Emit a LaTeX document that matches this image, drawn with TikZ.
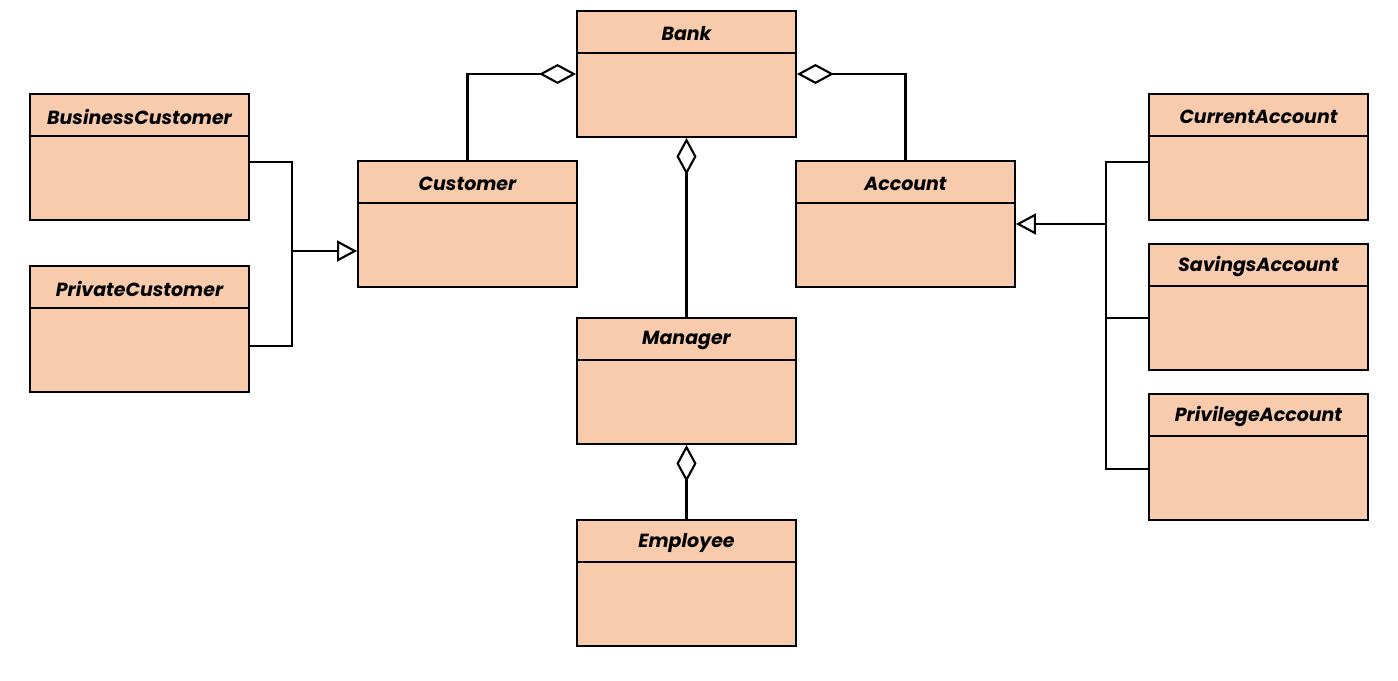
\documentclass[tikz,border=0pt]{standalone}
\usepackage{fontspec}
\setmainfont{Poppins}
\usepackage{tikz}
\usetikzlibrary{arrows.meta}

\definecolor{classfill}{RGB}{247,203,172}

\newcommand{\umlclass}[3]{%
  \node[cls] (#1) at (#2) {};
  \draw[line width=1.1pt] ([yshift=-0.86cm]#1.north west) -- ([yshift=-0.86cm]#1.north east);
  \node[title] (#1-t) at ([yshift=-0.47cm]#1.north) {#3};
}

\begin{document}
\begin{tikzpicture}[
    cls/.style={draw, fill=classfill, line width=1.1pt, minimum width=4.38cm,
      minimum height=2.52cm, inner sep=0pt},
    title/.style={font=\fontsize{10.8}{13}\selectfont\bfseries\itshape, inner sep=0pt},
    agg/.style={line width=1.2pt, {Diamond[open,length=0.74cm,width=0.4cm]}-},
    gen/.style={line width=1.2pt, -{Triangle[open,length=0.4cm,width=0.42cm]}},
    link/.style={line width=1.2pt}
  ]
  \useasboundingbox (0,0) rectangle (27.96,-13.62);

  \umlclass{bank}{13.73,-1.48}{Bank}
  \umlclass{customer}{9.35,-4.48}{Customer}
  \umlclass{account}{18.11,-4.48}{Account}
  \umlclass{manager}{13.73,-7.62}{Manager}
  \umlclass{employee}{13.73,-11.66}{Employee}
  \umlclass{business}{2.79,-3.14}{BusinessCustomer}
  \umlclass{private}{2.79,-6.58}{PrivateCustomer}
  \umlclass{current}{25.17,-3.14}{CurrentAccount}
  \umlclass{savings}{25.17,-6.14}{SavingsAccount}
  \umlclass{privilege}{25.17,-9.14}{PrivilegeAccount}

  % aggregations
  \draw[agg] (bank.west) -| (customer.north);
  \draw[agg] (bank.east) -| (account.north);
  \draw[agg] (bank.south) -- (manager.north);
  \draw[agg] (manager.south) -- (employee.north);

  % customer kinds
  \coordinate (cj) at (5.84,-5.02);
  \draw[link] ([yshift=-0.1cm]business.east) -| (cj);
  \draw[link] ([yshift=-0.34cm]private.east) -| (cj);
  \draw[gen] (cj) -- (cj -| customer.west);

  % account kinds
  \coordinate (aj) at (22.12,-4.48);
  \draw[link] ([yshift=-0.1cm]current.west) -| (aj);
  \draw[link] ([yshift=-0.24cm]privilege.west) -| (aj);
  \draw[link] ([yshift=-0.22cm]savings.west) -- ([yshift=-0.22cm]savings.west -| aj);
  \draw[gen] (aj) -- (account.east);
\end{tikzpicture}
\end{document}
